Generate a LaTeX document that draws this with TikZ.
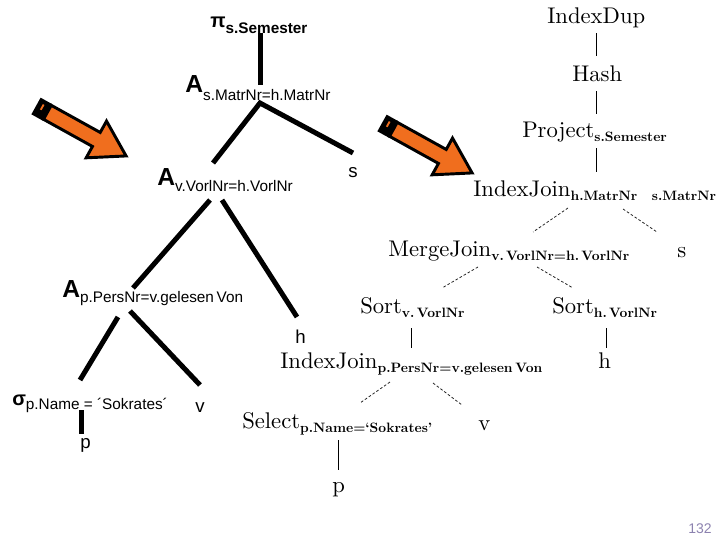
\documentclass[tikz,border=0pt]{standalone}
\usepackage{fontspec}
\newfontfamily\arial{Liberation Sans}
\newfontfamily\cmten{lmroman10-regular}[Extension=.otf, BoldFont=lmroman10-bold]
\definecolor{arroworange}{RGB}{240,110,30}
\definecolor{pagenum}{RGB}{140,130,175}
\newcommand\lsub[2]{\raisebox{-#1}{\fontsize{11.5}{12}\selectfont #2}}
\newcommand\rsub[1]{\raisebox{-3.5pt}{\fontsize{10.2}{11}\selectfont\bfseries #1}}
\tikzset{
  L/.style={font=\arial, anchor=base west, inner sep=0pt},
  LA/.style={L, font=\arial\fontsize{18.5}{19}\selectfont\bfseries},
  Lrel/.style={L, font=\arial\fontsize{14}{15}\selectfont},
  R/.style={font=\cmten\fontsize{17}{20}\selectfont, anchor=base west, inner sep=0pt},
  thickline/.style={line width=3.75pt},
  thinline/.style={line width=0.7pt},
  dotline/.style={line width=0.6pt, dash pattern=on 2pt off 1.5pt, black!85},
  fatarrow/.pic={
    \draw[line width=2.2pt, line join=miter, fill=arroworange]
      (13,-8) -- (69,-8) -- (69,-21) -- (103,0) -- (69,21) -- (69,8) -- (13,8) -- cycle;
    \fill[black] (0,-9.5) rectangle (13,9.5);
    \draw[arroworange, line width=1.4pt] (6,-5) -- (6,1);
  }
}
\begin{document}
\begin{tikzpicture}[x=0.75pt,y=-0.75pt]
\useasboundingbox (0,0) rectangle (720,540);

% ---------- left tree ----------
\node[L] (pi) at (210,27) {\fontsize{15}{16}\selectfont\bfseries π\lsub{4.5pt}{s.Semester}};
\node[LA] (j1) at (185,92) {A\lsub{6pt}{\mdseries s.MatrNr=h.MatrNr}};
\node[Lrel] (s1) at (348,177) {s};
\node[LA] (j2) at (157,185) {A\lsub{5pt}{\mdseries v.VorlNr=h.VorlNr}};
\node[LA] (j3) at (62,297) {A\lsub{4pt}{\mdseries p.PersNr=v.gelesen\kern2pt Von}};
\node[Lrel] (h1) at (295,343) {h};
\node[L] (sig) at (12,405) {\fontsize{15}{16}\selectfont\bfseries σ\lsub{3pt}{\mdseries p.Name = ´Sokrates´}};
\node[Lrel] (v1) at (195,412) {v};
\node[Lrel] (p1) at (80,448) {p};

\coordinate (a0) at (260,33);  \coordinate (a1) at (260,85);
\coordinate (b0) at (260,103); \coordinate (b1) at (213,163); \coordinate (b2) at (353,153);
\coordinate (c0) at (210,200); \coordinate (c1) at (133,288);
\coordinate (c2) at (222,200); \coordinate (c3) at (297,317);
\coordinate (d0) at (118,317); \coordinate (d1) at (80,380);
\coordinate (d2) at (130,311); \coordinate (d3) at (200,385);
\coordinate (e0) at (81,410);  \coordinate (e1) at (81,434);
\draw[thickline] (a0) -- (a1);
\draw[thickline] (b1) -- (b0) -- (b2);
\draw[thickline] (c0) -- (c1);
\draw[thickline] (c2) -- (c3);
\draw[thickline] (d0) -- (d1);
\draw[thickline] (d2) -- (d3);
\draw[thickline] (e0) -- (e1);

% ---------- arrows ----------
\pic[rotate=-29] at (36,106) {fatarrow};
\pic[rotate=-29] at (382,123) {fatarrow};

% ---------- right tree ----------
\node[R] (dup) at (547,23) {IndexDup};
\node[R] (hash) at (572,81) {Hash};
\node[R] (proj) at (522,137) {Project\rsub{s.Semester}};
\node[R] (ij1) at (473,196) {IndexJoin\rsub{h.MatrNr\hspace{11pt}s.MatrNr}};
\node[R] (mj) at (388,256) {MergeJoin\rsub{v.\,VorlNr=h.\,VorlNr}};
\node[R] (s2) at (677,257) {s};
\node[R] (sv) at (360,313) {Sort\rsub{v.\,VorlNr}};
\node[R] (sh) at (552,313) {Sort\rsub{h.\,VorlNr}};
\node[R] (ij2) at (280,368) {IndexJoin\rsub{p.PersNr=v.gelesen\kern2pt Von}};
\node[R] (h2) at (598,368) {h};
\node[R] (sel) at (242,428) {Select\rsub{p.Name=‘Sokrates’}};
\node[R] (v2) at (478,430) {v};
\node[R] (p2) at (332,492) {p};

\draw[thinline] (596,33) -- (596,56);
\draw[thinline] (596,91) -- (596,114);
\draw[thinline] (596,148) -- (596,172);
\draw[dotline] (568,208) -- (533,232);
\draw[dotline] (623,209) -- (657,232);
\draw[dotline] (478,267) -- (442,288);
\draw[dotline] (537,267) -- (573,288);
\draw[thinline] (411,328) -- (411,348);
\draw[thinline] (606,328) -- (606,348);
\draw[dotline] (390,382) -- (360,403);
\draw[dotline] (433,383) -- (462,405);
\draw[thinline] (338,440) -- (338,470);

% page number
\node[L, text=pagenum, font=\arial\fontsize{10.5}{11}\selectfont] (pg) at (688,533) {132};
\end{tikzpicture}
\end{document}
